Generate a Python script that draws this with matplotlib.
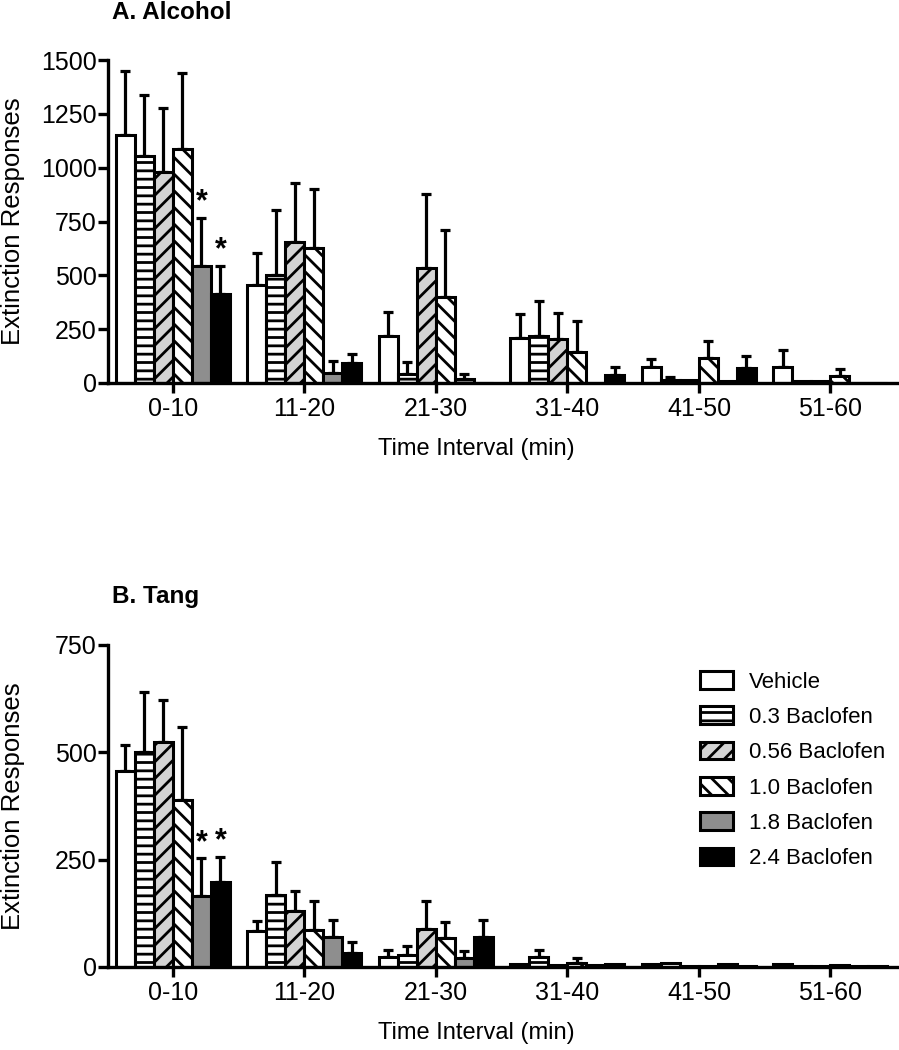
import numpy as np
import matplotlib
matplotlib.use("Agg")
import matplotlib.pyplot as plt

# Baclofen and extinction responding, in 10-minute bins

intervals = ["0-10", "11-20", "21-30", "31-40", "41-50", "51-60"]
doses = ["Vehicle", "0.3 Baclofen", "0.56 Baclofen", "1.0 Baclofen",
         "1.8 Baclofen", "2.4 Baclofen"]

# A. Alcohol - mean responses per dose (rows) and interval (columns)
alcohol_mean = [
    [1150, 455, 218, 207, 72, 76],
    [1055, 500, 42, 218, 12, 8],
    [980, 656, 532, 204, 15, 10],
    [1085, 625, 401, 146, 114, 33],
    [545, 48, 19, 0, 8, 0],
    [413, 94, 0, 37, 68, 0],
]
alcohol_sem = [
    [300, 147, 110, 112, 39, 77],
    [283, 303, 54, 164, 15, 0],
    [298, 274, 346, 119, 0, 0],
    [353, 274, 310, 142, 82, 31],
    [223, 56, 23, 0, 0, 0],
    [132, 41, 0, 35, 59, 0],
]
alcohol_stars = [(4, 0), (5, 0)]   # (dose index, interval index)

# B. Tang
tang_mean = [
    [456, 84, 23, 8, 6, 6],
    [500, 168, 28, 23, 10, 2],
    [525, 131, 88, 5, 3, 3],
    [388, 86, 67, 10, 2, 4],
    [165, 69, 20, 5, 6, 2],
    [197, 32, 70, 8, 3, 2],
]
tang_sem = [
    [61, 23, 17, 0, 0, 0],
    [141, 77, 21, 17, 0, 0],
    [97, 45, 66, 0, 0, 0],
    [171, 68, 38, 11, 0, 0],
    [88, 40, 18, 0, 0, 0],
    [60, 27, 39, 0, 0, 0],
]
tang_stars = [(4, 0), (5, 0)]

plt.rcParams["font.family"] = ["Liberation Sans", "DejaVu Sans"]
plt.rcParams["hatch.linewidth"] = 2.0

# look of each dose: fill colour, hatch
styles = [
    ("white", None),
    ("white", "--"),
    ("#d4d4d4", "//"),
    ("white", "\\\\"),
    ("#8e8e8e", None),
    ("black", None),
]

BAR_W = 0.1445
FS = 18


def draw_panel(ax, means, sems, stars, ymax, step, title_y, title):
    x = np.arange(len(intervals))
    for i, (mean, sem) in enumerate(zip(means, sems)):
        face, hatch = styles[i]
        pos = x + (i - 2.5) * BAR_W
        mean = np.array(mean, dtype=float)
        sem = np.array(sem, dtype=float)
        ax.bar(pos, mean, width=BAR_W, color=face, edgecolor="black",
               linewidth=2.2, hatch=hatch, label=doses[i], zorder=2)
        has_err = sem > 0
        ax.errorbar(pos[has_err], mean[has_err],
                    yerr=[np.zeros(has_err.sum()), sem[has_err]],
                    fmt="none", ecolor="black", elinewidth=2.3,
                    capsize=3.6, capthick=2.3, zorder=1)

    # significance marks above the error bars
    for i, j in stars:
        top = means[i][j] + sems[i][j]
        ax.annotate("*", xy=(j + (i - 2.5) * BAR_W, top), xytext=(0, 0),
                    textcoords="offset points", ha="center", va="bottom",
                    fontsize=22, fontweight="bold")

    ax.set_xlim(-0.494, 5.521)
    ax.set_ylim(0, ymax)
    ax.set_yticks(np.arange(0, ymax + 1, step))
    ax.set_xticks(x)
    ax.set_xticklabels(intervals)
    for side in ["top", "right"]:
        ax.spines[side].set_visible(False)
    for side in ["left", "bottom"]:
        ax.spines[side].set_linewidth(2.4)
        ax.spines[side].set_zorder(3)
    ax.tick_params(direction="out", length=7, width=2.4, labelsize=FS)
    ax.tick_params(axis="y", pad=1)
    ax.tick_params(axis="x", pad=3)

    ax.set_ylabel("Extinction Responses", fontsize=18.5)
    ax.yaxis.set_label_coords(-0.105, 0.5)
    ax.set_xlabel("Time Interval (min)", fontsize=17, va="top")
    ax.xaxis.set_label_coords(0.466, -0.170)

    ax.figure.text(112 / 899, 1 - title_y / 1050, title, fontsize=17.5,
                   fontweight="bold", va="baseline")


fig = plt.figure(figsize=(8.99, 10.5), dpi=100)
axA = fig.add_axes([108 / 899, (1050 - 383) / 1050, 791 / 899, 323 / 1050])
axB = fig.add_axes([108 / 899, (1050 - 967) / 1050, 791 / 899, 322 / 1050])

draw_panel(axA, alcohol_mean, alcohol_sem, alcohol_stars, 1500, 250, 19,
           "A. Alcohol")
draw_panel(axB, tang_mean, tang_sem, tang_stars, 750, 250, 603, "B. Tang")

axB.legend(loc="upper left", bbox_to_anchor=(700 / 899, 1 - 671 / 1050),
           bbox_transform=fig.transFigure, frameon=False, fontsize=16,
           handlelength=1.5, handleheight=0.85, handletextpad=0.7,
           labelspacing=0.62, borderpad=0, borderaxespad=0)

fig.savefig("out.png", dpi=100)
